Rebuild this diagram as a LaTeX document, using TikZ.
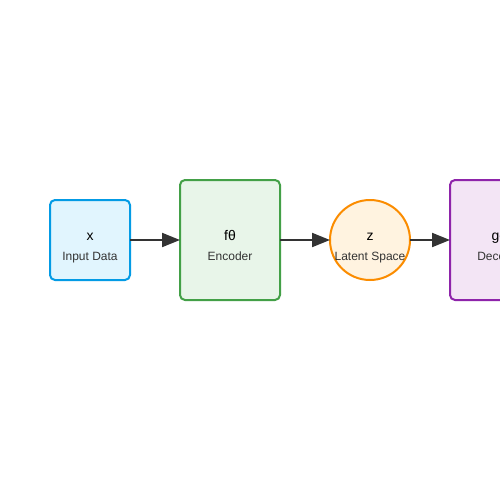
\documentclass[tikz,border=0pt]{standalone}
\usepackage{fontspec}
\setmainfont{Liberation Sans}
\usetikzlibrary{arrows.meta}
\definecolor{blueB}{HTML}{039BE5}\definecolor{blueF}{HTML}{E1F5FE}
\definecolor{greenB}{HTML}{43A047}\definecolor{greenF}{HTML}{E8F5E9}
\definecolor{orangeB}{HTML}{FB8C00}\definecolor{orangeF}{HTML}{FFF3E0}
\definecolor{purpleB}{HTML}{8E24AA}\definecolor{purpleF}{HTML}{F3E5F5}
\definecolor{arrowC}{HTML}{333333}
\definecolor{labelC}{HTML}{333333}
\begin{document}
\begin{tikzpicture}[x=1pt,y=-1pt,
  blk/.style={draw, line width=2pt, rounded corners=5pt, inner sep=0pt, outer sep=0pt, minimum width=#1},
  mainT/.style={anchor=base, font=\fontsize{14}{16}\selectfont, text=black, inner sep=0pt},
  subT/.style={anchor=base, font=\fontsize{12}{14}\selectfont, text=labelC, inner sep=0pt},
  conn/.style={draw=arrowC, line width=2pt, -{Triangle[length=18pt,width=14pt]}}]
\clip (0,0) rectangle (500,500);
\useasboundingbox (0,0) rectangle (500,500);
\fill[white] (0,0) rectangle (500,500);
\node[draw=blueB, fill=blueF, line width=2pt, rounded corners=5pt, minimum width=80pt, minimum height=80pt, outer sep=0pt] (inp) at (90,240) {};
\node[draw=greenB, fill=greenF, line width=2pt, rounded corners=5pt, minimum width=100pt, minimum height=120pt, outer sep=0pt] (enc) at (230,240) {};
\node[circle, draw=orangeB, fill=orangeF, line width=2pt, minimum size=80pt, inner sep=0pt, outer sep=0pt] (lat) at (370,240) {};
\node[draw=purpleB, fill=purpleF, line width=2pt, rounded corners=5pt, minimum width=100pt, minimum height=120pt, outer sep=0pt] (dec) at (500,240) {};
\node[mainT] (inpm) at (90,240) {x};
\node[subT] (inps) at (90,260) {Input Data};
\node[mainT] (encm) at (230,240) {fθ};
\node[subT] (encs) at (230,260) {Encoder};
\node[mainT] (latm) at (370,240) {z};
\node[subT] (lats) at (370,260) {Latent Space};
\node[mainT] (decm) at (500,240) {gφ};
\node[subT] (decs) at (500,260) {Decoder};
\draw[conn] (inp.east) -- (enc.west);
\draw[conn] (enc.east) -- (lat.west);
\draw[conn] (lat.east) -- (dec.west);
\end{tikzpicture}
\end{document}
